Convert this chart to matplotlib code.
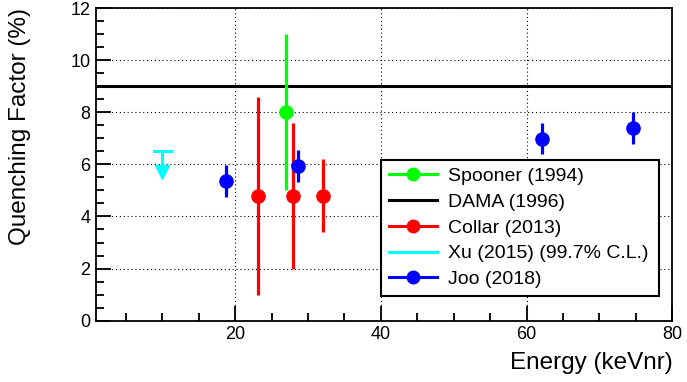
import matplotlib
matplotlib.use('Agg')
import matplotlib.pyplot as plt
from matplotlib.ticker import MultipleLocator
from matplotlib.lines import Line2D

plt.rcParams['font.family'] = ['Liberation Sans', 'DejaVu Sans']

# Spooner (1994)
spooner_x = [27.0]
spooner_y = [8.0]
spooner_lo = [3.0]
spooner_hi = [3.0]

# DAMA (1996)
dama_qf = 9.0

# Collar (2013)
collar_x = [23.1, 28.0, 32.1]
collar_y = [4.8, 4.8, 4.8]
collar_lo = [3.8, 2.8, 1.4]
collar_hi = [3.8, 2.8, 1.4]

# Xu (2015) upper limit
xu_x = 10.0
xu_lim = 6.5

# Joo (2018)
joo_x = [18.8, 28.6, 62.1, 74.6]
joo_y = [5.37, 5.95, 6.99, 7.40]
joo_err = [0.62, 0.62, 0.6, 0.6]

fig = plt.figure(figsize=(6.87, 3.82), dpi=100)
ax = fig.add_axes([0.1397, 0.1605, 0.8389, 0.8185])

ax.set_xlim(0.9, 80)
ax.set_ylim(0, 12)

ax.grid(True, color='black', linestyle=(0, (1, 2.5)), linewidth=0.8)
ax.set_axisbelow(True)

ax.axhline(dama_qf, color='black', lw=2.2, zorder=3)

ms = 9.5
ax.errorbar(spooner_x, spooner_y, yerr=[spooner_lo, spooner_hi], fmt='o',
            color='#00ff00', ms=ms, elinewidth=2.3, capsize=0, zorder=4)
ax.errorbar(collar_x, collar_y, yerr=[collar_lo, collar_hi], fmt='o',
            color='#ff0000', ms=ms, elinewidth=2.3, capsize=0, zorder=4)
ax.errorbar(joo_x, joo_y, yerr=joo_err, fmt='o',
            color='#0000ff', ms=ms, elinewidth=2.3, capsize=0, zorder=5)

# Xu upper limit: cap + downward arrow
ax.plot([xu_x - 1.2, xu_x + 1.2], [xu_lim, xu_lim], color='#00ffff', lw=2.2, zorder=4)
ax.plot([xu_x, xu_x], [xu_lim, xu_lim - 0.8], color='#00ffff', lw=2.2, zorder=4)
ax.plot([xu_x], [xu_lim - 0.8], marker='v', color='#00ffff', ms=10, zorder=4)

ax.xaxis.set_major_locator(MultipleLocator(20))
ax.xaxis.set_minor_locator(MultipleLocator(5))
ax.yaxis.set_major_locator(MultipleLocator(2))
ax.yaxis.set_minor_locator(MultipleLocator(0.5))
ax.tick_params(which='both', direction='in', top=False, right=False,
               labelsize=13, width=1.3)
ax.tick_params(which='major', length=11, pad=4)
ax.tick_params(which='minor', length=5.5)
for s in ax.spines.values():
    s.set_linewidth(1.3)

ax.set_xlabel('Energy (keVnr)', fontsize=17.5, loc='right', labelpad=6)
ax.set_ylabel('Quenching Factor (%)', fontsize=17.5, loc='top', labelpad=28)

handles = [
    Line2D([], [], color='#00ff00', lw=2.2, marker='o', ms=9),
    Line2D([], [], color='black', lw=2.2),
    Line2D([], [], color='#ff0000', lw=2.2, marker='o', ms=9),
    Line2D([], [], color='#00ffff', lw=2.2),
    Line2D([], [], color='#0000ff', lw=2.2, marker='o', ms=9),
]
labels = ['Spooner (1994)', 'DAMA (1996)', 'Collar (2013)',
          'Xu (2015) (99.7% C.L.)', 'Joo (2018)']
leg = ax.legend(handles, labels, loc='lower left',
                bbox_to_anchor=(0.4946, 0.079, 0.482, 0.419), mode='expand',
                fontsize=14, frameon=True, fancybox=False, framealpha=1,
                edgecolor='black', handlelength=2.5, labelspacing=0.42,
                borderpad=0.4, handletextpad=0.55, borderaxespad=0)
leg.get_frame().set_linewidth(1.5)

fig.savefig('out.png', dpi=100)
